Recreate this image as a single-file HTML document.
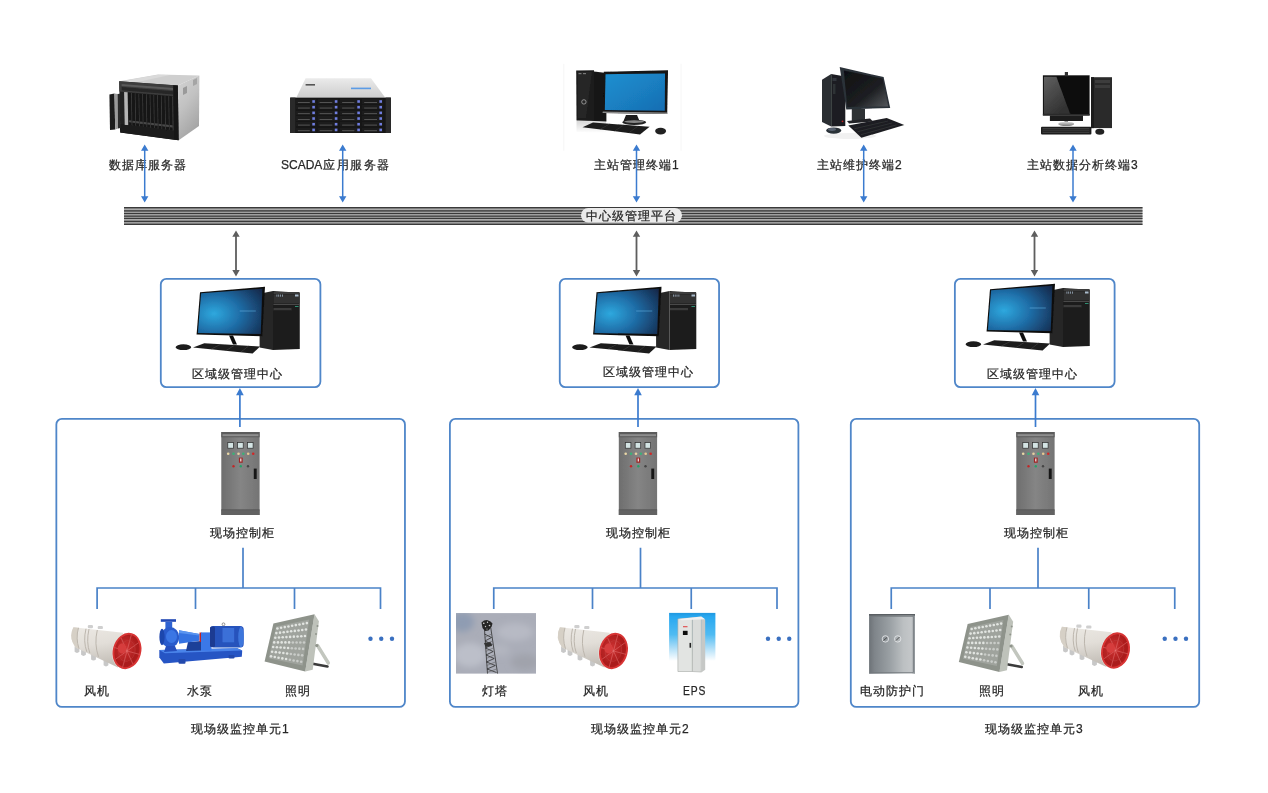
<!DOCTYPE html>
<html><head><meta charset="utf-8">
<style>
html,body{margin:0;padding:0;background:#fff;}
body{width:1268px;height:793px;position:relative;overflow:hidden;font-family:"Liberation Sans",sans-serif;color:#262626;}
.t{position:absolute;font-size:12px;line-height:16px;white-space:nowrap;letter-spacing:1px;-webkit-text-stroke:0.25px #2a2a2a;will-change:transform;}
svg.L{position:absolute;left:0;top:0;}
</style></head><body>
<svg class="L" width="1268" height="793" viewBox="0 0 1268 793">

<defs>
 <linearGradient id="gTop" x1="0" y1="0" x2="0" y2="1"><stop offset="0" stop-color="#ebebeb"/><stop offset="1" stop-color="#cdcdcd"/></linearGradient>
 <linearGradient id="gSide" x1="0" y1="0" x2="0.4" y2="1"><stop offset="0" stop-color="#d4d4d4"/><stop offset="0.5" stop-color="#c2c2c2"/><stop offset="1" stop-color="#a5a5a5"/></linearGradient>
 <linearGradient id="gDell" x1="0" y1="0" x2="1" y2="1"><stop offset="0" stop-color="#1f8fd0"/><stop offset="0.5" stop-color="#1a80c2"/><stop offset="1" stop-color="#176db2"/></linearGradient>
 <linearGradient id="gLen" x1="0" y1="0" x2="1" y2="1"><stop offset="0" stop-color="#0e0f11"/><stop offset="0.6" stop-color="#1d1f22"/><stop offset="1" stop-color="#55585c"/></linearGradient>
 <linearGradient id="gGloss" x1="0" y1="0" x2="1" y2="0"><stop offset="0" stop-color="#5a5a5a"/><stop offset="1" stop-color="#3a3a3a"/></linearGradient>
 <radialGradient id="gAsus" cx="0.25" cy="0.55" r="0.9"><stop offset="0" stop-color="#2ea8de"/><stop offset="0.45" stop-color="#1f6ea8"/><stop offset="1" stop-color="#15284a"/></radialGradient>
 <linearGradient id="gCab" x1="0" y1="0" x2="1" y2="0"><stop offset="0" stop-color="#6e6e6e"/><stop offset="0.5" stop-color="#858585"/><stop offset="1" stop-color="#747474"/></linearGradient>
 <linearGradient id="gFan" x1="0" y1="0" x2="0.2" y2="1"><stop offset="0" stop-color="#ece9e4"/><stop offset="0.5" stop-color="#e2ded8"/><stop offset="1" stop-color="#c4bfb8"/></linearGradient>
 <radialGradient id="gRed" cx="0.4" cy="0.45" r="0.6"><stop offset="0" stop-color="#cf3434"/><stop offset="0.8" stop-color="#a81a1a"/><stop offset="1" stop-color="#b82222"/></radialGradient>
 <linearGradient id="gSky" x1="0" y1="0" x2="1" y2="1"><stop offset="0" stop-color="#8d98ad"/><stop offset="0.35" stop-color="#aeb1bc"/><stop offset="0.7" stop-color="#a7aab3"/><stop offset="1" stop-color="#9fa2ab"/></linearGradient>
 <linearGradient id="gEps" x1="0" y1="0" x2="0" y2="1"><stop offset="0" stop-color="#2098e0"/><stop offset="0.08" stop-color="#28a8f0"/><stop offset="0.45" stop-color="#50bbf2"/><stop offset="0.75" stop-color="#b4e0f8"/><stop offset="1" stop-color="#ffffff"/></linearGradient>
 <linearGradient id="gDoor" x1="0" y1="0" x2="1" y2="0"><stop offset="0" stop-color="#6c7277"/><stop offset="0.12" stop-color="#7f858a"/><stop offset="0.45" stop-color="#9aa0a4"/><stop offset="0.75" stop-color="#bcc0c2"/><stop offset="0.92" stop-color="#c4c7c9"/><stop offset="1" stop-color="#8a9094"/></linearGradient>
 <linearGradient id="gGl3" x1="0" y1="0" x2="0.6" y2="1"><stop offset="0" stop-color="#606060"/><stop offset="1" stop-color="#303030"/></linearGradient>
 <linearGradient id="gRefl" x1="0" y1="0" x2="0" y2="1"><stop offset="0" stop-color="#d8d8d8"/><stop offset="1" stop-color="#ffffff"/></linearGradient>
 <linearGradient id="gBase" x1="0" y1="0" x2="0" y2="1"><stop offset="0" stop-color="#e0e0e0"/><stop offset="1" stop-color="#777"/></linearGradient>
 <filter id="blur1" x="-20%" y="-20%" width="140%" height="140%"><feGaussianBlur stdDeviation="3"/></filter>
 <filter id="soft" x="-5%" y="-5%" width="110%" height="110%"><feGaussianBlur stdDeviation="0.35"/></filter>
</defs>
<g filter="url(#soft)">
<polygon points="119.20,81.30 158.00,74.40 199.40,75.40 177.80,85.50" fill="#cfcfcf"/>
<polygon points="121.00,81.20 158.00,74.80 170.00,75.00 135.00,82.50" fill="#dadada"/>
<polygon points="177.80,85.50 199.40,75.40 199.00,126.00 178.70,140.30" fill="url(#gSide)"/>
<polygon points="183.00,88.00 187.00,86.00 187.00,93.00 183.00,95.00" fill="#9a9a9a"/>
<polygon points="193.00,80.00 197.00,78.00 197.00,84.00 193.00,86.00" fill="#a5a5a5"/>
<polygon points="119.20,81.30 177.80,85.50 178.70,140.30 120.20,132.50" fill="#232323"/>
<polygon points="119.20,81.30 177.80,85.50 177.98,96.46 119.40,91.54" fill="#3c3c3c"/>
<polygon points="121.59,84.04 173.16,87.89 173.19,90.07 121.63,86.09" fill="#5a5a5a"/>
<polygon points="121.65,87.12 173.21,91.16 173.27,94.43 121.71,90.20" fill="#262626"/>
<polygon points="173.11,85.16 177.80,85.50 178.70,140.30 174.02,139.68" fill="#161616"/>
<polygon points="124.09,91.93 127.60,92.23 128.23,125.32 124.72,124.89" fill="#b5b5b5"/>
<polygon points="128.20,92.80 131.00,93.03 131.61,125.22 128.81,124.87" fill="#141414"/>
<polygon points="131.00,93.03 131.93,93.11 132.54,125.33 131.61,125.22" fill="#3a3a3a"/>
<polygon points="128.72,120.22 131.52,120.55 131.56,122.62 128.76,122.29" fill="#4a4a4a"/>
<polygon points="131.93,93.11 134.73,93.35 135.34,125.68 132.54,125.33" fill="#141414"/>
<polygon points="134.73,93.35 135.67,93.43 136.27,125.79 135.34,125.68" fill="#3a3a3a"/>
<polygon points="132.45,120.66 135.25,120.98 135.29,123.07 132.49,122.73" fill="#4a4a4a"/>
<polygon points="135.67,93.43 138.47,93.66 139.07,126.13 136.27,125.79" fill="#141414"/>
<polygon points="138.47,93.66 139.40,93.74 140.00,126.25 139.07,126.13" fill="#3a3a3a"/>
<polygon points="136.18,121.09 138.98,121.42 139.02,123.52 136.22,123.18" fill="#4a4a4a"/>
<polygon points="139.40,93.74 142.20,93.98 142.80,126.59 140.00,126.25" fill="#141414"/>
<polygon points="142.20,93.98 143.13,94.06 143.73,126.71 142.80,126.59" fill="#3a3a3a"/>
<polygon points="139.91,121.53 142.71,121.86 142.75,123.96 139.95,123.63" fill="#4a4a4a"/>
<polygon points="143.13,94.06 145.94,94.30 146.53,127.05 143.73,126.71" fill="#141414"/>
<polygon points="145.94,94.30 146.87,94.38 147.46,127.17 146.53,127.05" fill="#3a3a3a"/>
<polygon points="143.64,121.97 146.44,122.30 146.48,124.41 143.68,124.07" fill="#4a4a4a"/>
<polygon points="146.87,94.38 149.67,94.61 150.26,127.51 147.46,127.17" fill="#141414"/>
<polygon points="149.67,94.61 150.60,94.69 151.19,127.62 150.26,127.51" fill="#3a3a3a"/>
<polygon points="147.37,122.41 150.17,122.73 150.21,124.86 147.41,124.52" fill="#4a4a4a"/>
<polygon points="150.60,94.69 153.40,94.93 153.99,127.97 151.19,127.62" fill="#141414"/>
<polygon points="153.40,94.93 154.34,95.01 154.92,128.08 153.99,127.97" fill="#3a3a3a"/>
<polygon points="151.11,122.84 153.90,123.17 153.94,125.30 151.14,124.97" fill="#4a4a4a"/>
<polygon points="154.34,95.01 157.14,95.24 157.72,128.43 154.92,128.08" fill="#141414"/>
<polygon points="157.14,95.24 158.07,95.32 158.65,128.54 157.72,128.43" fill="#3a3a3a"/>
<polygon points="154.84,123.28 157.63,123.61 157.67,125.75 154.87,125.41" fill="#4a4a4a"/>
<polygon points="158.07,95.32 160.87,95.56 161.45,128.88 158.65,128.54" fill="#141414"/>
<polygon points="160.87,95.56 161.81,95.64 162.38,129.00 161.45,128.88" fill="#3a3a3a"/>
<polygon points="158.57,123.72 161.37,124.05 161.40,126.20 158.60,125.86" fill="#4a4a4a"/>
<polygon points="161.81,95.64 164.61,95.88 165.18,129.34 162.38,129.00" fill="#141414"/>
<polygon points="164.61,95.88 165.54,95.95 166.11,129.46 165.18,129.34" fill="#3a3a3a"/>
<polygon points="162.30,124.16 165.10,124.48 165.13,126.64 162.34,126.31" fill="#4a4a4a"/>
<polygon points="165.54,95.95 168.34,96.19 168.91,129.80 166.11,129.46" fill="#141414"/>
<polygon points="168.34,96.19 169.28,96.27 169.84,129.91 168.91,129.80" fill="#3a3a3a"/>
<polygon points="166.03,124.59 168.83,124.92 168.86,127.09 166.07,126.75" fill="#4a4a4a"/>
<polygon points="169.28,96.27 172.08,96.51 172.64,130.26 169.84,129.91" fill="#141414"/>
<polygon points="172.08,96.51 173.01,96.59 173.57,130.37 172.64,130.26" fill="#3a3a3a"/>
<polygon points="169.76,125.03 172.56,125.36 172.59,127.54 169.80,127.20" fill="#4a4a4a"/>
<polygon points="120.04,124.31 173.87,130.95 174.02,139.68 120.20,132.50" fill="#1a1a1a"/>
<polygon points="109.40,94.50 114.50,93.50 115.20,129.50 110.00,130.00" fill="#1e1e1e"/>
<polygon points="114.50,93.50 117.50,94.00 118.00,128.50 115.20,129.50" fill="#9a9a9a"/>
<polygon points="117.50,94.00 120.00,93.80 120.50,128.00 118.00,128.50" fill="#2a2a2a"/>
<polygon points="305.60,78.20 371.00,78.20 385.10,97.60 296.40,97.60" fill="url(#gTop)"/>
<rect x="351" y="87.6" width="20" height="1.6" fill="#5c9ce6"/>
<rect x="305.6" y="84" width="9.4" height="1.6" fill="#555"/>
<rect x="290.2" y="97.6" width="100.7" height="35.4" fill="#131313"/>
<rect x="290.2" y="97.6" width="5.3" height="35.4" fill="#2a2a2a"/><rect x="385.6" y="97.6" width="5.3" height="35.4" fill="#2a2a2a"/>
<rect x="295.9" y="99.00" width="19.90" height="5" fill="#1d1d1d"/>
<rect x="297.9" y="102.00" width="11.90" height="0.7" fill="#6a6a6a"/>
<rect x="312.3" y="100.20" width="2.6" height="2.6" fill="#6f7ee0"/>
<rect x="295.9" y="104.68" width="19.90" height="5" fill="#1d1d1d"/>
<rect x="297.9" y="107.68" width="11.90" height="0.7" fill="#6a6a6a"/>
<rect x="312.3" y="105.88" width="2.6" height="2.6" fill="#6f7ee0"/>
<rect x="295.9" y="110.36" width="19.90" height="5" fill="#1d1d1d"/>
<rect x="297.9" y="113.36" width="11.90" height="0.7" fill="#6a6a6a"/>
<rect x="312.3" y="111.56" width="2.6" height="2.6" fill="#6f7ee0"/>
<rect x="295.9" y="116.04" width="19.90" height="5" fill="#1d1d1d"/>
<rect x="297.9" y="119.04" width="11.90" height="0.7" fill="#6a6a6a"/>
<rect x="312.3" y="117.24" width="2.6" height="2.6" fill="#6f7ee0"/>
<rect x="295.9" y="121.72" width="19.90" height="5" fill="#1d1d1d"/>
<rect x="297.9" y="124.72" width="11.90" height="0.7" fill="#6a6a6a"/>
<rect x="312.3" y="122.92" width="2.6" height="2.6" fill="#6f7ee0"/>
<rect x="295.9" y="127.40" width="19.90" height="5" fill="#1d1d1d"/>
<rect x="297.9" y="130.40" width="11.90" height="0.7" fill="#6a6a6a"/>
<rect x="312.3" y="128.60" width="2.6" height="2.6" fill="#6f7ee0"/>
<rect x="317.6" y="99.00" width="20.70" height="5" fill="#1d1d1d"/>
<rect x="319.6" y="102.00" width="12.70" height="0.7" fill="#6a6a6a"/>
<rect x="334.8" y="100.20" width="2.6" height="2.6" fill="#6f7ee0"/>
<rect x="317.6" y="104.68" width="20.70" height="5" fill="#1d1d1d"/>
<rect x="319.6" y="107.68" width="12.70" height="0.7" fill="#6a6a6a"/>
<rect x="334.8" y="105.88" width="2.6" height="2.6" fill="#6f7ee0"/>
<rect x="317.6" y="110.36" width="20.70" height="5" fill="#1d1d1d"/>
<rect x="319.6" y="113.36" width="12.70" height="0.7" fill="#6a6a6a"/>
<rect x="334.8" y="111.56" width="2.6" height="2.6" fill="#6f7ee0"/>
<rect x="317.6" y="116.04" width="20.70" height="5" fill="#1d1d1d"/>
<rect x="319.6" y="119.04" width="12.70" height="0.7" fill="#6a6a6a"/>
<rect x="334.8" y="117.24" width="2.6" height="2.6" fill="#6f7ee0"/>
<rect x="317.6" y="121.72" width="20.70" height="5" fill="#1d1d1d"/>
<rect x="319.6" y="124.72" width="12.70" height="0.7" fill="#6a6a6a"/>
<rect x="334.8" y="122.92" width="2.6" height="2.6" fill="#6f7ee0"/>
<rect x="317.6" y="127.40" width="20.70" height="5" fill="#1d1d1d"/>
<rect x="319.6" y="130.40" width="12.70" height="0.7" fill="#6a6a6a"/>
<rect x="334.8" y="128.60" width="2.6" height="2.6" fill="#6f7ee0"/>
<rect x="340.1" y="99.00" width="20.30" height="5" fill="#1d1d1d"/>
<rect x="342.1" y="102.00" width="12.30" height="0.7" fill="#6a6a6a"/>
<rect x="357.3" y="100.20" width="2.6" height="2.6" fill="#6f7ee0"/>
<rect x="340.1" y="104.68" width="20.30" height="5" fill="#1d1d1d"/>
<rect x="342.1" y="107.68" width="12.30" height="0.7" fill="#6a6a6a"/>
<rect x="357.3" y="105.88" width="2.6" height="2.6" fill="#6f7ee0"/>
<rect x="340.1" y="110.36" width="20.30" height="5" fill="#1d1d1d"/>
<rect x="342.1" y="113.36" width="12.30" height="0.7" fill="#6a6a6a"/>
<rect x="357.3" y="111.56" width="2.6" height="2.6" fill="#6f7ee0"/>
<rect x="340.1" y="116.04" width="20.30" height="5" fill="#1d1d1d"/>
<rect x="342.1" y="119.04" width="12.30" height="0.7" fill="#6a6a6a"/>
<rect x="357.3" y="117.24" width="2.6" height="2.6" fill="#6f7ee0"/>
<rect x="340.1" y="121.72" width="20.30" height="5" fill="#1d1d1d"/>
<rect x="342.1" y="124.72" width="12.30" height="0.7" fill="#6a6a6a"/>
<rect x="357.3" y="122.92" width="2.6" height="2.6" fill="#6f7ee0"/>
<rect x="340.1" y="127.40" width="20.30" height="5" fill="#1d1d1d"/>
<rect x="342.1" y="130.40" width="12.30" height="0.7" fill="#6a6a6a"/>
<rect x="357.3" y="128.60" width="2.6" height="2.6" fill="#6f7ee0"/>
<rect x="362.2" y="99.00" width="20.80" height="5" fill="#1d1d1d"/>
<rect x="364.2" y="102.00" width="12.80" height="0.7" fill="#6a6a6a"/>
<rect x="379.4" y="100.20" width="2.6" height="2.6" fill="#6f7ee0"/>
<rect x="362.2" y="104.68" width="20.80" height="5" fill="#1d1d1d"/>
<rect x="364.2" y="107.68" width="12.80" height="0.7" fill="#6a6a6a"/>
<rect x="379.4" y="105.88" width="2.6" height="2.6" fill="#6f7ee0"/>
<rect x="362.2" y="110.36" width="20.80" height="5" fill="#1d1d1d"/>
<rect x="364.2" y="113.36" width="12.80" height="0.7" fill="#6a6a6a"/>
<rect x="379.4" y="111.56" width="2.6" height="2.6" fill="#6f7ee0"/>
<rect x="362.2" y="116.04" width="20.80" height="5" fill="#1d1d1d"/>
<rect x="364.2" y="119.04" width="12.80" height="0.7" fill="#6a6a6a"/>
<rect x="379.4" y="117.24" width="2.6" height="2.6" fill="#6f7ee0"/>
<rect x="362.2" y="121.72" width="20.80" height="5" fill="#1d1d1d"/>
<rect x="364.2" y="124.72" width="12.80" height="0.7" fill="#6a6a6a"/>
<rect x="379.4" y="122.92" width="2.6" height="2.6" fill="#6f7ee0"/>
<rect x="362.2" y="127.40" width="20.80" height="5" fill="#1d1d1d"/>
<rect x="364.2" y="130.40" width="12.80" height="0.7" fill="#6a6a6a"/>
<rect x="379.4" y="128.60" width="2.6" height="2.6" fill="#6f7ee0"/>
<path d="M563.8,63.8 V150.8 M681,63.8 V150.8" stroke="#f6f6f6" stroke-width="1"/>
<path d="M576.5,121 L606,121.5 L606,133 L576.5,132 Z" fill="url(#gRefl)"/>
<polygon points="594.00,71.50 606.40,73.00 606.40,121.50 594.00,121.00" fill="#161616"/>
<polygon points="576.20,70.50 594.00,70.20 594.00,121.00 576.50,120.60" fill="#1c1c1c"/>
<polygon points="578.00,72.00 592.00,71.80 586.00,118.00 578.00,118.00" fill="#262626"/>
<rect x="578.5" y="73" width="3" height="1.2" fill="#777"/><rect x="583" y="73" width="3" height="1.2" fill="#777"/>
<circle cx="583.9" cy="101.9" r="2.2" fill="none" stroke="#aaa" stroke-width="0.8"/>
<polygon points="603.80,71.80 668.00,70.20 667.20,114.00 602.50,113.00" fill="#121212"/>
<polygon points="602.80,111.50 667.30,112.50 667.20,114.00 602.50,113.00" fill="#8a8a8a"/>
<polygon points="605.50,74.20 665.00,73.40 664.80,110.80 604.80,110.00" fill="url(#gDell)"/>
<polygon points="626.00,115.00 637.00,115.00 639.50,121.00 623.50,121.00" fill="#1a1a1a"/>
<ellipse cx="634.2" cy="122.3" rx="12" ry="2.6" fill="#222"/><ellipse cx="634.2" cy="121.6" rx="10" ry="1.3" fill="#888"/>
<polygon points="582.50,127.30 593.00,122.50 649.60,126.80 640.00,134.50" fill="#1b1b1b"/>
<path d="M600.26,129.18 L609.47,124.07" stroke="#3c3c3c" stroke-width="0.6"/>
<path d="M614.63,130.94 L623.63,125.18" stroke="#3c3c3c" stroke-width="0.6"/>
<path d="M628.99,132.70 L637.79,126.30" stroke="#3c3c3c" stroke-width="0.6"/>
<ellipse cx="660.6" cy="131.1" rx="5.5" ry="3.3" fill="#202020"/>
<ellipse cx="850" cy="136" rx="26" ry="3" fill="#f1f1f1"/>
<polygon points="822.00,79.70 831.20,74.10 831.20,126.60 822.00,122.00" fill="#2a2d33"/>
<polygon points="831.20,74.10 845.30,76.60 845.30,126.00 831.20,126.60" fill="#1b1d21"/>
<rect x="832.5" y="78" width="4" height="3" fill="#33363c"/><rect x="833" y="84" width="2.5" height="10" fill="#2e3136"/><circle cx="842.5" cy="121.3" r="0.9" fill="#c42020"/>
<polygon points="839.70,67.00 883.60,77.10 890.20,107.90 846.30,109.40" fill="#2b3038"/>
<polygon points="843.80,70.60 882.60,78.60 888.20,106.40 847.30,106.90" fill="url(#gLen)"/>
<polygon points="851.80,109.00 865.00,109.00 865.00,121.50 851.80,121.50" fill="#2d3136"/>
<polygon points="847.00,121.00 870.00,118.50 873.00,121.50 849.00,123.50" fill="#202226"/>
<polygon points="848.30,125.60 886.70,118.00 904.30,125.10 861.40,137.70" fill="#1c1d20"/>
<path d="M854.22,128.78 L888.00,121.04" stroke="#3a3c40" stroke-width="0.6"/>
<path d="M857.55,131.74 L892.29,122.94" stroke="#3a3c40" stroke-width="0.6"/>
<path d="M860.88,134.70 L896.58,124.84" stroke="#3a3c40" stroke-width="0.6"/>
<ellipse cx="833.7" cy="130.6" rx="7.5" ry="3.2" fill="#2a3038"/><ellipse cx="832" cy="129.5" rx="4" ry="1.4" fill="#5a6472"/>
<rect x="1042.9" y="75.3" width="46.7" height="40.2" fill="#0c0c0c"/>
<polygon points="1043.90,76.70 1056.40,76.70 1070.40,114.50 1043.90,114.50" fill="url(#gGl3)"/>
<rect x="1042.9" y="113.8" width="46.7" height="1.7" fill="#2a2a2a"/>
<rect x="1064.8" y="72" width="3.2" height="4.3" fill="#333"/>
<rect x="1049.9" y="115.5" width="33.1" height="5.5" fill="#1a1a1a"/>
<rect x="1064.5" y="121" width="3.5" height="2" fill="#888"/><ellipse cx="1066.2" cy="123.9" rx="8" ry="2.2" fill="url(#gBase)"/>
<rect x="1041" y="126.7" width="50.4" height="7.9" rx="1" fill="#1c1c1c"/><rect x="1042.5" y="128" width="47" height="5" fill="#3a3a3a"/><path d="M1042.5,129.7 H1089.5 M1042.5,131.4 H1089.5" stroke="#141414" stroke-width="0.5"/>
<rect x="1091" y="77.2" width="21" height="50.9" fill="#2c2c2c"/>
<rect x="1091" y="77.2" width="3" height="50.9" fill="#1a1a1a"/>
<rect x="1095" y="80" width="15" height="3" fill="#3c3c3c"/><rect x="1095" y="85" width="15" height="3" fill="#3a3a3a"/>
<ellipse cx="1099.8" cy="131.8" rx="4.5" ry="3" fill="#222"/>
<g transform="translate(0,0)">
<polygon points="259.60,293.80 273.00,291.10 273.00,350.10 259.60,347.50" fill="#262626"/>
<polygon points="273.00,291.10 299.80,292.70 299.80,349.00 273.00,350.10" fill="#1f1f1f"/>
<rect x="273.5" y="292" width="26" height="2.2" fill="#3a3a3a"/><rect x="273.5" y="294.5" width="26" height="9" fill="#333"/><rect x="273.5" y="304" width="26" height="1" fill="#4a4a4a"/><rect x="273.5" y="308" width="18" height="2.2" fill="#3a3a3a"/>
<rect x="276.5" y="294.5" width="0.8" height="2.2" fill="#9ab"/><rect x="278.3" y="294.5" width="0.8" height="2.2" fill="#9ab"/><rect x="280.1" y="294.5" width="0.8" height="2.2" fill="#9ab"/><rect x="282" y="294.5" width="0.8" height="2.2" fill="#9ab"/><rect x="295" y="294.5" width="3.5" height="2" fill="#abc"/><rect x="295" y="306" width="3.5" height="0.8" fill="#3a8"/>
<polygon points="200.00,292.20 265.00,286.80 262.30,336.20 196.60,334.60" fill="#101010"/>
<polygon points="201.10,293.30 262.30,288.70 260.70,334.00 197.90,333.00" fill="url(#gAsus)"/>
<path d="M239.7,311 H255.8" stroke="#5fb0e0" stroke-width="0.6"/>
<polygon points="229.00,335.50 233.00,335.50 237.00,344.50 233.00,344.50" fill="#111"/>
<polygon points="193.00,347.40 204.30,343.20 260.10,346.40 252.60,353.40" fill="#1c1c1c"/>
<path d="M211.39,348.95 L220.53,344.41" stroke="#444" stroke-width="0.6"/>
<path d="M226.24,350.41 L234.53,345.25" stroke="#444" stroke-width="0.6"/>
<path d="M241.09,351.88 L248.53,346.08" stroke="#444" stroke-width="0.6"/>
<ellipse cx="183.4" cy="347.2" rx="7.8" ry="2.9" fill="#1a1a1a"/>
</g>
<g transform="translate(396.5,0)">
<polygon points="259.60,293.80 273.00,291.10 273.00,350.10 259.60,347.50" fill="#262626"/>
<polygon points="273.00,291.10 299.80,292.70 299.80,349.00 273.00,350.10" fill="#1f1f1f"/>
<rect x="273.5" y="292" width="26" height="2.2" fill="#3a3a3a"/><rect x="273.5" y="294.5" width="26" height="9" fill="#333"/><rect x="273.5" y="304" width="26" height="1" fill="#4a4a4a"/><rect x="273.5" y="308" width="18" height="2.2" fill="#3a3a3a"/>
<rect x="276.5" y="294.5" width="0.8" height="2.2" fill="#9ab"/><rect x="278.3" y="294.5" width="0.8" height="2.2" fill="#9ab"/><rect x="280.1" y="294.5" width="0.8" height="2.2" fill="#9ab"/><rect x="282" y="294.5" width="0.8" height="2.2" fill="#9ab"/><rect x="295" y="294.5" width="3.5" height="2" fill="#abc"/><rect x="295" y="306" width="3.5" height="0.8" fill="#3a8"/>
<polygon points="200.00,292.20 265.00,286.80 262.30,336.20 196.60,334.60" fill="#101010"/>
<polygon points="201.10,293.30 262.30,288.70 260.70,334.00 197.90,333.00" fill="url(#gAsus)"/>
<path d="M239.7,311 H255.8" stroke="#5fb0e0" stroke-width="0.6"/>
<polygon points="229.00,335.50 233.00,335.50 237.00,344.50 233.00,344.50" fill="#111"/>
<polygon points="193.00,347.40 204.30,343.20 260.10,346.40 252.60,353.40" fill="#1c1c1c"/>
<path d="M211.39,348.95 L220.53,344.41" stroke="#444" stroke-width="0.6"/>
<path d="M226.24,350.41 L234.53,345.25" stroke="#444" stroke-width="0.6"/>
<path d="M241.09,351.88 L248.53,346.08" stroke="#444" stroke-width="0.6"/>
<ellipse cx="183.4" cy="347.2" rx="7.8" ry="2.9" fill="#1a1a1a"/>
</g>
<g transform="translate(790,-3)">
<polygon points="259.60,293.80 273.00,291.10 273.00,350.10 259.60,347.50" fill="#262626"/>
<polygon points="273.00,291.10 299.80,292.70 299.80,349.00 273.00,350.10" fill="#1f1f1f"/>
<rect x="273.5" y="292" width="26" height="2.2" fill="#3a3a3a"/><rect x="273.5" y="294.5" width="26" height="9" fill="#333"/><rect x="273.5" y="304" width="26" height="1" fill="#4a4a4a"/><rect x="273.5" y="308" width="18" height="2.2" fill="#3a3a3a"/>
<rect x="276.5" y="294.5" width="0.8" height="2.2" fill="#9ab"/><rect x="278.3" y="294.5" width="0.8" height="2.2" fill="#9ab"/><rect x="280.1" y="294.5" width="0.8" height="2.2" fill="#9ab"/><rect x="282" y="294.5" width="0.8" height="2.2" fill="#9ab"/><rect x="295" y="294.5" width="3.5" height="2" fill="#abc"/><rect x="295" y="306" width="3.5" height="0.8" fill="#3a8"/>
<polygon points="200.00,292.20 265.00,286.80 262.30,336.20 196.60,334.60" fill="#101010"/>
<polygon points="201.10,293.30 262.30,288.70 260.70,334.00 197.90,333.00" fill="url(#gAsus)"/>
<path d="M239.7,311 H255.8" stroke="#5fb0e0" stroke-width="0.6"/>
<polygon points="229.00,335.50 233.00,335.50 237.00,344.50 233.00,344.50" fill="#111"/>
<polygon points="193.00,347.40 204.30,343.20 260.10,346.40 252.60,353.40" fill="#1c1c1c"/>
<path d="M211.39,348.95 L220.53,344.41" stroke="#444" stroke-width="0.6"/>
<path d="M226.24,350.41 L234.53,345.25" stroke="#444" stroke-width="0.6"/>
<path d="M241.09,351.88 L248.53,346.08" stroke="#444" stroke-width="0.6"/>
<ellipse cx="183.4" cy="347.2" rx="7.8" ry="2.9" fill="#1a1a1a"/>
</g>
<g transform="translate(0,0)">
<rect x="221.3" y="432" width="38.3" height="83" fill="url(#gCab)"/>
<rect x="221.3" y="432" width="38.3" height="5.3" fill="#5c5c5c"/><rect x="222.5" y="434.2" width="36" height="2" fill="#8e8e8e"/>
<rect x="221.3" y="509.8" width="38.3" height="5.2" fill="#626262"/><rect x="221.3" y="509.5" width="38.3" height="0.7" fill="#505050"/>
<rect x="227.79999999999998" y="442.6" width="5.6" height="5.6" fill="#d4e4e4" stroke="#2e2e2e" stroke-width="0.7"/>
<rect x="237.6" y="442.6" width="5.6" height="5.6" fill="#d4e4e4" stroke="#2e2e2e" stroke-width="0.7"/>
<rect x="247.5" y="442.6" width="5.6" height="5.6" fill="#d4e4e4" stroke="#2e2e2e" stroke-width="0.7"/>
<circle cx="228.2" cy="453.8" r="1.3" fill="#ead8a6"/>
<circle cx="233.5" cy="453.8" r="1.3" fill="#3ab078"/>
<circle cx="238.5" cy="453.8" r="1.3" fill="#e8d0a0"/>
<circle cx="243.3" cy="453.8" r="1.3" fill="#3ab078"/>
<circle cx="248.2" cy="453.8" r="1.3" fill="#e8c890"/>
<circle cx="253.2" cy="453.8" r="1.3" fill="#d02828"/>
<rect x="238.9" y="457.6" width="3.8" height="5.2" fill="#a02828"/><rect x="240.2" y="458.5" width="1.2" height="3" fill="#eee"/>
<circle cx="233.5" cy="466.3" r="1.2" fill="#c02828"/>
<circle cx="240.8" cy="466.3" r="1.2" fill="#28a068"/>
<circle cx="248" cy="466.3" r="1.2" fill="#444"/>
<rect x="253.8" y="468.6" width="2.9" height="10.4" fill="#151515"/>
</g>
<g transform="translate(397.5,0)">
<rect x="221.3" y="432" width="38.3" height="83" fill="url(#gCab)"/>
<rect x="221.3" y="432" width="38.3" height="5.3" fill="#5c5c5c"/><rect x="222.5" y="434.2" width="36" height="2" fill="#8e8e8e"/>
<rect x="221.3" y="509.8" width="38.3" height="5.2" fill="#626262"/><rect x="221.3" y="509.5" width="38.3" height="0.7" fill="#505050"/>
<rect x="227.79999999999998" y="442.6" width="5.6" height="5.6" fill="#d4e4e4" stroke="#2e2e2e" stroke-width="0.7"/>
<rect x="237.6" y="442.6" width="5.6" height="5.6" fill="#d4e4e4" stroke="#2e2e2e" stroke-width="0.7"/>
<rect x="247.5" y="442.6" width="5.6" height="5.6" fill="#d4e4e4" stroke="#2e2e2e" stroke-width="0.7"/>
<circle cx="228.2" cy="453.8" r="1.3" fill="#ead8a6"/>
<circle cx="233.5" cy="453.8" r="1.3" fill="#3ab078"/>
<circle cx="238.5" cy="453.8" r="1.3" fill="#e8d0a0"/>
<circle cx="243.3" cy="453.8" r="1.3" fill="#3ab078"/>
<circle cx="248.2" cy="453.8" r="1.3" fill="#e8c890"/>
<circle cx="253.2" cy="453.8" r="1.3" fill="#d02828"/>
<rect x="238.9" y="457.6" width="3.8" height="5.2" fill="#a02828"/><rect x="240.2" y="458.5" width="1.2" height="3" fill="#eee"/>
<circle cx="233.5" cy="466.3" r="1.2" fill="#c02828"/>
<circle cx="240.8" cy="466.3" r="1.2" fill="#28a068"/>
<circle cx="248" cy="466.3" r="1.2" fill="#444"/>
<rect x="253.8" y="468.6" width="2.9" height="10.4" fill="#151515"/>
</g>
<g transform="translate(795,0)">
<rect x="221.3" y="432" width="38.3" height="83" fill="url(#gCab)"/>
<rect x="221.3" y="432" width="38.3" height="5.3" fill="#5c5c5c"/><rect x="222.5" y="434.2" width="36" height="2" fill="#8e8e8e"/>
<rect x="221.3" y="509.8" width="38.3" height="5.2" fill="#626262"/><rect x="221.3" y="509.5" width="38.3" height="0.7" fill="#505050"/>
<rect x="227.79999999999998" y="442.6" width="5.6" height="5.6" fill="#d4e4e4" stroke="#2e2e2e" stroke-width="0.7"/>
<rect x="237.6" y="442.6" width="5.6" height="5.6" fill="#d4e4e4" stroke="#2e2e2e" stroke-width="0.7"/>
<rect x="247.5" y="442.6" width="5.6" height="5.6" fill="#d4e4e4" stroke="#2e2e2e" stroke-width="0.7"/>
<circle cx="228.2" cy="453.8" r="1.3" fill="#ead8a6"/>
<circle cx="233.5" cy="453.8" r="1.3" fill="#3ab078"/>
<circle cx="238.5" cy="453.8" r="1.3" fill="#e8d0a0"/>
<circle cx="243.3" cy="453.8" r="1.3" fill="#3ab078"/>
<circle cx="248.2" cy="453.8" r="1.3" fill="#e8c890"/>
<circle cx="253.2" cy="453.8" r="1.3" fill="#d02828"/>
<rect x="238.9" y="457.6" width="3.8" height="5.2" fill="#a02828"/><rect x="240.2" y="458.5" width="1.2" height="3" fill="#eee"/>
<circle cx="233.5" cy="466.3" r="1.2" fill="#c02828"/>
<circle cx="240.8" cy="466.3" r="1.2" fill="#28a068"/>
<circle cx="248" cy="466.3" r="1.2" fill="#444"/>
<rect x="253.8" y="468.6" width="2.9" height="10.4" fill="#151515"/>
</g>
<g transform="translate(0,0)"><path d="M74.6,646.3 h4.8 v5.5 q-2.4,2.2 -4.8,0 Z" fill="#c8c8c8"/><path d="M81.1,649.3 h4.8 v5.5 q-2.4,2.2 -4.8,0 Z" fill="#c8c8c8"/><path d="M91.1,654 h4.8 v5.5 q-2.4,2.2 -4.8,0 Z" fill="#c8c8c8"/><path d="M103.6,659.8 h4.8 v5.5 q-2.4,2.2 -4.8,0 Z" fill="#c8c8c8"/><path d="M73.4,627.2 L123.2,632.8 L118,667.5 L76,647.8 Q68,637.5 73.4,627.2 Z" fill="url(#gFan)"/><path d="M73.4,627.2 Q68,637.5 76,647.8 L79,648.8 Q75,638 78.5,627.8 Z" fill="#d6d0c6"/><path d="M78.5,627.8 Q75.5,638 79,648.8 M86,628.7 Q83,641 86.8,651.8 M89,629 Q86,642 89.8,653 M97.3,630 Q94,644 98.5,656.8" stroke="#bcb6ad" stroke-width="1" fill="none"/><rect x="87.80000000000001" y="625.0" width="5.2" height="3.2" rx="1.2" fill="#cfcfcf"/><rect x="97.7" y="625.9" width="5.2" height="3.2" rx="1.2" fill="#cfcfcf"/><ellipse cx="126" cy="651" rx="13.8" ry="18" transform="rotate(15 126 651)" fill="#e4e1dc"/><ellipse cx="127" cy="651" rx="13.2" ry="17.4" transform="rotate(15 127 651)" fill="url(#gRed)" stroke="#d83434" stroke-width="1.9"/><g transform="rotate(15 127 651)" stroke="#e87878" stroke-width="0.45" fill="none"><path d="M127,634 V668 M114,651 H140 M118,640 L136,662 M136,640 L118,662"/><ellipse cx="127" cy="651" rx="8" ry="10.5" stroke="#c04040"/></g><ellipse cx="122" cy="648.5" rx="4.2" ry="5" fill="#d63c3c"/></g>
<g transform="translate(486.5,0)"><path d="M74.6,646.3 h4.8 v5.5 q-2.4,2.2 -4.8,0 Z" fill="#c8c8c8"/><path d="M81.1,649.3 h4.8 v5.5 q-2.4,2.2 -4.8,0 Z" fill="#c8c8c8"/><path d="M91.1,654 h4.8 v5.5 q-2.4,2.2 -4.8,0 Z" fill="#c8c8c8"/><path d="M103.6,659.8 h4.8 v5.5 q-2.4,2.2 -4.8,0 Z" fill="#c8c8c8"/><path d="M73.4,627.2 L123.2,632.8 L118,667.5 L76,647.8 Q68,637.5 73.4,627.2 Z" fill="url(#gFan)"/><path d="M73.4,627.2 Q68,637.5 76,647.8 L79,648.8 Q75,638 78.5,627.8 Z" fill="#d6d0c6"/><path d="M78.5,627.8 Q75.5,638 79,648.8 M86,628.7 Q83,641 86.8,651.8 M89,629 Q86,642 89.8,653 M97.3,630 Q94,644 98.5,656.8" stroke="#bcb6ad" stroke-width="1" fill="none"/><rect x="87.80000000000001" y="625.0" width="5.2" height="3.2" rx="1.2" fill="#cfcfcf"/><rect x="97.7" y="625.9" width="5.2" height="3.2" rx="1.2" fill="#cfcfcf"/><ellipse cx="126" cy="651" rx="13.8" ry="18" transform="rotate(15 126 651)" fill="#e4e1dc"/><ellipse cx="127" cy="651" rx="13.2" ry="17.4" transform="rotate(15 127 651)" fill="url(#gRed)" stroke="#d83434" stroke-width="1.9"/><g transform="rotate(15 127 651)" stroke="#e87878" stroke-width="0.45" fill="none"><path d="M127,634 V668 M114,651 H140 M118,640 L136,662 M136,640 L118,662"/><ellipse cx="127" cy="651" rx="8" ry="10.5" stroke="#c04040"/></g><ellipse cx="122" cy="648.5" rx="4.2" ry="5" fill="#d63c3c"/></g>
<g transform="translate(988.5,-0.5)"><path d="M74.6,646.3 h4.8 v5.5 q-2.4,2.2 -4.8,0 Z" fill="#c8c8c8"/><path d="M81.1,649.3 h4.8 v5.5 q-2.4,2.2 -4.8,0 Z" fill="#c8c8c8"/><path d="M91.1,654 h4.8 v5.5 q-2.4,2.2 -4.8,0 Z" fill="#c8c8c8"/><path d="M103.6,659.8 h4.8 v5.5 q-2.4,2.2 -4.8,0 Z" fill="#c8c8c8"/><path d="M73.4,627.2 L123.2,632.8 L118,667.5 L76,647.8 Q68,637.5 73.4,627.2 Z" fill="url(#gFan)"/><path d="M73.4,627.2 Q68,637.5 76,647.8 L79,648.8 Q75,638 78.5,627.8 Z" fill="#d6d0c6"/><path d="M78.5,627.8 Q75.5,638 79,648.8 M86,628.7 Q83,641 86.8,651.8 M89,629 Q86,642 89.8,653 M97.3,630 Q94,644 98.5,656.8" stroke="#bcb6ad" stroke-width="1" fill="none"/><rect x="87.80000000000001" y="625.0" width="5.2" height="3.2" rx="1.2" fill="#cfcfcf"/><rect x="97.7" y="625.9" width="5.2" height="3.2" rx="1.2" fill="#cfcfcf"/><ellipse cx="126" cy="651" rx="13.8" ry="18" transform="rotate(15 126 651)" fill="#e4e1dc"/><ellipse cx="127" cy="651" rx="13.2" ry="17.4" transform="rotate(15 127 651)" fill="url(#gRed)" stroke="#d83434" stroke-width="1.9"/><g transform="rotate(15 127 651)" stroke="#e87878" stroke-width="0.45" fill="none"><path d="M127,634 V668 M114,651 H140 M118,640 L136,662 M136,640 L118,662"/><ellipse cx="127" cy="651" rx="8" ry="10.5" stroke="#c04040"/></g><ellipse cx="122" cy="648.5" rx="4.2" ry="5" fill="#d63c3c"/></g>
<polygon points="159.30,649.90 237.30,648.30 242.20,650.60 241.80,656.70 163.80,663.50 159.30,657.40" fill="#2854c4"/>
<polygon points="159.30,649.90 237.30,648.30 242.20,650.60 165.00,653.20" fill="#4a84ea"/>
<rect x="178.5" y="659" width="7" height="4.8" rx="1" fill="#2248ac"/><rect x="228.5" y="655" width="6" height="3.5" rx="1" fill="#2248ac"/>
<polygon points="188.00,642.00 201.00,641.00 201.00,650.50 186.00,651.00" fill="#1d3f98"/>
<rect x="160.8" y="619.2" width="15.2" height="2.6" fill="#2149b4"/><rect x="165.4" y="621.8" width="6.8" height="7" fill="#2d62d2"/>
<ellipse cx="170" cy="637.3" rx="9.3" ry="10.2" fill="#2a5bcc"/><ellipse cx="171.5" cy="636.5" rx="5.5" ry="6.5" fill="#3a76e4"/>
<ellipse cx="162" cy="637" rx="2.6" ry="8.2" fill="#1f46ad"/>
<path d="M166,646 L175,646 L177,651 L164,652 Z" fill="#2550bd"/>
<polygon points="179.00,630.20 199.40,634.00 199.40,640.80 179.00,643.80" fill="#3673e2"/>
<polygon points="179.00,630.20 199.40,634.00 199.40,635.50 179.00,633.00" fill="#5a95f0"/>
<rect x="199.5" y="632.5" width="2" height="9.5" fill="#c42222"/>
<rect x="201" y="632.4" width="10.5" height="18.2" fill="#3b78e8"/>
<rect x="210" y="626" width="33.7" height="21.6" rx="3.5" fill="#2652bc"/>
<rect x="210" y="626.5" width="5" height="20.6" rx="1.5" fill="#1b3a92"/>
<ellipse cx="241" cy="637" rx="2.8" ry="10.3" fill="#3e76dc"/>
<rect x="222.5" y="628" width="11.7" height="14.3" fill="#3a70d8"/>
<circle cx="223.5" cy="624.3" r="1.4" fill="none" stroke="#666" stroke-width="0.7"/>
<g transform="translate(0,0)"><path d="M317.5,645.5 L328.3,663" stroke="#c2c6be" stroke-width="3.4" stroke-linecap="round"/><path d="M312.7,663.8 L327.5,666.5" stroke="#3a3a3a" stroke-width="2.6" stroke-linecap="round"/><polygon points="314.50,614.20 318.90,621.20 312.70,669.80 305.20,671.50" fill="#bec2ba"/><circle cx="316.8" cy="645.5" r="1.6" fill="#8f948b"/><circle cx="317.5" cy="626" r="1" fill="#8f948b"/><circle cx="316" cy="634" r="1" fill="#8f948b"/><polygon points="273.40,623.40 314.50,614.20 305.20,671.50 264.60,661.40" fill="#8e938b"/><polygon points="276.10,626.50 309.20,619.50 302.60,665.40 268.60,658.30" fill="#9fa39d"/><circle cx="277.41" cy="628.44" r="1.3" fill="#e2e5e1"/><circle cx="281.09" cy="627.77" r="1.3" fill="#e2e5e1"/><circle cx="284.78" cy="627.11" r="1.3" fill="#e2e5e1"/><circle cx="288.46" cy="626.44" r="1.3" fill="#e2e5e1"/><circle cx="292.15" cy="625.77" r="1.3" fill="#e2e5e1"/><circle cx="295.83" cy="625.11" r="1.3" fill="#e2e5e1"/><circle cx="299.52" cy="624.44" r="1.3" fill="#e2e5e1"/><circle cx="303.20" cy="623.78" r="1.3" fill="#e2e5e1"/><circle cx="306.89" cy="623.11" r="1.3" fill="#e2e5e1"/><circle cx="276.34" cy="633.09" r="1.3" fill="#e2e5e1"/><circle cx="280.04" cy="632.65" r="1.3" fill="#e2e5e1"/><circle cx="283.74" cy="632.21" r="1.3" fill="#e2e5e1"/><circle cx="287.44" cy="631.77" r="1.3" fill="#e2e5e1"/><circle cx="291.14" cy="631.32" r="1.3" fill="#e2e5e1"/><circle cx="294.84" cy="630.88" r="1.3" fill="#e2e5e1"/><circle cx="298.54" cy="630.44" r="1.3" fill="#e2e5e1"/><circle cx="302.24" cy="630.00" r="1.3" fill="#e2e5e1"/><circle cx="305.94" cy="629.56" r="1.3" fill="#e2e5e1"/><circle cx="275.28" cy="637.75" r="1.3" fill="#e2e5e1"/><circle cx="278.99" cy="637.53" r="1.3" fill="#e2e5e1"/><circle cx="282.71" cy="637.31" r="1.3" fill="#e2e5e1"/><circle cx="286.42" cy="637.09" r="1.3" fill="#e2e5e1"/><circle cx="290.13" cy="636.88" r="1.3" fill="#e2e5e1"/><circle cx="293.85" cy="636.66" r="1.3" fill="#e2e5e1"/><circle cx="297.56" cy="636.44" r="1.3" fill="#e2e5e1"/><circle cx="301.27" cy="636.22" r="1.3" fill="#e2e5e1"/><circle cx="304.99" cy="636.00" r="1.3" fill="#e2e5e1"/><circle cx="274.21" cy="642.40" r="1.3" fill="#e2e5e1"/><circle cx="277.94" cy="642.41" r="1.3" fill="#e2e5e1"/><circle cx="281.67" cy="642.41" r="1.3" fill="#e2e5e1"/><circle cx="285.40" cy="642.42" r="1.3" fill="#e2e5e1"/><circle cx="289.12" cy="642.42" r="1.3" fill="#e2e5e1"/><circle cx="292.85" cy="642.43" r="1.3" fill="#c9ccc8"/><circle cx="296.58" cy="642.44" r="1.3" fill="#c9ccc8"/><circle cx="300.31" cy="642.44" r="1.3" fill="#c9ccc8"/><circle cx="304.04" cy="642.45" r="1.3" fill="#c9ccc8"/><circle cx="273.15" cy="647.06" r="1.3" fill="#e2e5e1"/><circle cx="276.89" cy="647.29" r="1.3" fill="#e2e5e1"/><circle cx="280.63" cy="647.52" r="1.3" fill="#e2e5e1"/><circle cx="284.38" cy="647.75" r="1.3" fill="#e2e5e1"/><circle cx="288.12" cy="647.97" r="1.3" fill="#e2e5e1"/><circle cx="291.86" cy="648.20" r="1.3" fill="#c9ccc8"/><circle cx="295.60" cy="648.43" r="1.3" fill="#c9ccc8"/><circle cx="299.34" cy="648.66" r="1.3" fill="#c9ccc8"/><circle cx="303.09" cy="648.89" r="1.3" fill="#c9ccc8"/><circle cx="272.09" cy="651.71" r="1.3" fill="#e2e5e1"/><circle cx="275.84" cy="652.17" r="1.3" fill="#e2e5e1"/><circle cx="279.60" cy="652.62" r="1.3" fill="#e2e5e1"/><circle cx="283.35" cy="653.07" r="1.3" fill="#e2e5e1"/><circle cx="287.11" cy="653.52" r="1.3" fill="#e2e5e1"/><circle cx="290.87" cy="653.98" r="1.3" fill="#c9ccc8"/><circle cx="294.62" cy="654.43" r="1.3" fill="#c9ccc8"/><circle cx="298.38" cy="654.88" r="1.3" fill="#c9ccc8"/><circle cx="302.14" cy="655.34" r="1.3" fill="#c9ccc8"/><circle cx="271.02" cy="656.37" r="1.3" fill="#e2e5e1"/><circle cx="274.79" cy="657.04" r="1.3" fill="#e2e5e1"/><circle cx="278.56" cy="657.72" r="1.3" fill="#e2e5e1"/><circle cx="282.33" cy="658.40" r="1.3" fill="#e2e5e1"/><circle cx="286.10" cy="659.07" r="1.3" fill="#e2e5e1"/><circle cx="289.87" cy="659.75" r="1.3" fill="#c9ccc8"/><circle cx="293.64" cy="660.43" r="1.3" fill="#c9ccc8"/><circle cx="297.42" cy="661.11" r="1.3" fill="#c9ccc8"/><circle cx="301.19" cy="661.78" r="1.3" fill="#c9ccc8"/></g>
<g transform="translate(694.25,0.5)"><path d="M317.5,645.5 L328.3,663" stroke="#c2c6be" stroke-width="3.4" stroke-linecap="round"/><path d="M312.7,663.8 L327.5,666.5" stroke="#3a3a3a" stroke-width="2.6" stroke-linecap="round"/><polygon points="314.50,614.20 318.90,621.20 312.70,669.80 305.20,671.50" fill="#bec2ba"/><circle cx="316.8" cy="645.5" r="1.6" fill="#8f948b"/><circle cx="317.5" cy="626" r="1" fill="#8f948b"/><circle cx="316" cy="634" r="1" fill="#8f948b"/><polygon points="273.40,623.40 314.50,614.20 305.20,671.50 264.60,661.40" fill="#8e938b"/><polygon points="276.10,626.50 309.20,619.50 302.60,665.40 268.60,658.30" fill="#9fa39d"/><circle cx="277.41" cy="628.44" r="1.3" fill="#e2e5e1"/><circle cx="281.09" cy="627.77" r="1.3" fill="#e2e5e1"/><circle cx="284.78" cy="627.11" r="1.3" fill="#e2e5e1"/><circle cx="288.46" cy="626.44" r="1.3" fill="#e2e5e1"/><circle cx="292.15" cy="625.77" r="1.3" fill="#e2e5e1"/><circle cx="295.83" cy="625.11" r="1.3" fill="#e2e5e1"/><circle cx="299.52" cy="624.44" r="1.3" fill="#e2e5e1"/><circle cx="303.20" cy="623.78" r="1.3" fill="#e2e5e1"/><circle cx="306.89" cy="623.11" r="1.3" fill="#e2e5e1"/><circle cx="276.34" cy="633.09" r="1.3" fill="#e2e5e1"/><circle cx="280.04" cy="632.65" r="1.3" fill="#e2e5e1"/><circle cx="283.74" cy="632.21" r="1.3" fill="#e2e5e1"/><circle cx="287.44" cy="631.77" r="1.3" fill="#e2e5e1"/><circle cx="291.14" cy="631.32" r="1.3" fill="#e2e5e1"/><circle cx="294.84" cy="630.88" r="1.3" fill="#e2e5e1"/><circle cx="298.54" cy="630.44" r="1.3" fill="#e2e5e1"/><circle cx="302.24" cy="630.00" r="1.3" fill="#e2e5e1"/><circle cx="305.94" cy="629.56" r="1.3" fill="#e2e5e1"/><circle cx="275.28" cy="637.75" r="1.3" fill="#e2e5e1"/><circle cx="278.99" cy="637.53" r="1.3" fill="#e2e5e1"/><circle cx="282.71" cy="637.31" r="1.3" fill="#e2e5e1"/><circle cx="286.42" cy="637.09" r="1.3" fill="#e2e5e1"/><circle cx="290.13" cy="636.88" r="1.3" fill="#e2e5e1"/><circle cx="293.85" cy="636.66" r="1.3" fill="#e2e5e1"/><circle cx="297.56" cy="636.44" r="1.3" fill="#e2e5e1"/><circle cx="301.27" cy="636.22" r="1.3" fill="#e2e5e1"/><circle cx="304.99" cy="636.00" r="1.3" fill="#e2e5e1"/><circle cx="274.21" cy="642.40" r="1.3" fill="#e2e5e1"/><circle cx="277.94" cy="642.41" r="1.3" fill="#e2e5e1"/><circle cx="281.67" cy="642.41" r="1.3" fill="#e2e5e1"/><circle cx="285.40" cy="642.42" r="1.3" fill="#e2e5e1"/><circle cx="289.12" cy="642.42" r="1.3" fill="#e2e5e1"/><circle cx="292.85" cy="642.43" r="1.3" fill="#c9ccc8"/><circle cx="296.58" cy="642.44" r="1.3" fill="#c9ccc8"/><circle cx="300.31" cy="642.44" r="1.3" fill="#c9ccc8"/><circle cx="304.04" cy="642.45" r="1.3" fill="#c9ccc8"/><circle cx="273.15" cy="647.06" r="1.3" fill="#e2e5e1"/><circle cx="276.89" cy="647.29" r="1.3" fill="#e2e5e1"/><circle cx="280.63" cy="647.52" r="1.3" fill="#e2e5e1"/><circle cx="284.38" cy="647.75" r="1.3" fill="#e2e5e1"/><circle cx="288.12" cy="647.97" r="1.3" fill="#e2e5e1"/><circle cx="291.86" cy="648.20" r="1.3" fill="#c9ccc8"/><circle cx="295.60" cy="648.43" r="1.3" fill="#c9ccc8"/><circle cx="299.34" cy="648.66" r="1.3" fill="#c9ccc8"/><circle cx="303.09" cy="648.89" r="1.3" fill="#c9ccc8"/><circle cx="272.09" cy="651.71" r="1.3" fill="#e2e5e1"/><circle cx="275.84" cy="652.17" r="1.3" fill="#e2e5e1"/><circle cx="279.60" cy="652.62" r="1.3" fill="#e2e5e1"/><circle cx="283.35" cy="653.07" r="1.3" fill="#e2e5e1"/><circle cx="287.11" cy="653.52" r="1.3" fill="#e2e5e1"/><circle cx="290.87" cy="653.98" r="1.3" fill="#c9ccc8"/><circle cx="294.62" cy="654.43" r="1.3" fill="#c9ccc8"/><circle cx="298.38" cy="654.88" r="1.3" fill="#c9ccc8"/><circle cx="302.14" cy="655.34" r="1.3" fill="#c9ccc8"/><circle cx="271.02" cy="656.37" r="1.3" fill="#e2e5e1"/><circle cx="274.79" cy="657.04" r="1.3" fill="#e2e5e1"/><circle cx="278.56" cy="657.72" r="1.3" fill="#e2e5e1"/><circle cx="282.33" cy="658.40" r="1.3" fill="#e2e5e1"/><circle cx="286.10" cy="659.07" r="1.3" fill="#e2e5e1"/><circle cx="289.87" cy="659.75" r="1.3" fill="#c9ccc8"/><circle cx="293.64" cy="660.43" r="1.3" fill="#c9ccc8"/><circle cx="297.42" cy="661.11" r="1.3" fill="#c9ccc8"/><circle cx="301.19" cy="661.78" r="1.3" fill="#c9ccc8"/></g>
<svg x="456" y="613.1" width="80" height="60.7" viewBox="456 613.1 80 60.7" overflow="hidden">
<rect x="456" y="613.1" width="80" height="60.7" fill="#aaadb8"/>
<g filter="url(#blur1)"><ellipse cx="462" cy="622" rx="12" ry="10" fill="#8f9cb2"/><ellipse cx="470" cy="655" rx="16" ry="12" fill="#bcbfc9"/><ellipse cx="515" cy="632" rx="18" ry="9" fill="#b7bac4"/><ellipse cx="525" cy="662" rx="14" ry="8" fill="#a0a3ac"/><ellipse cx="500" cy="650" rx="10" ry="6" fill="#b2b5bf"/></g>
<g stroke="#2a2a2a" stroke-width="0.75" fill="none"><path d="M484.4,628 L487.5,673.8 M490.8,628 L497.6,673.8"/><path d="M484.5,634 L491.5,637.5 L485,641 L492.3,644.5 L485.5,648 L493.2,651.5 L486,655 L494.2,658.5 L486.5,662 L495.3,665.5 L487,669 L496.5,672.5"/><path d="M491.5,634 L484.6,637.5 M492.3,641 L485.2,644.5 M493.2,648 L485.8,651.5 M494.2,655 L486.3,658.5 M495.3,662 L486.8,665.5 M496.5,669 L487.2,672.5" stroke="#555" stroke-width="0.5"/></g>
<path d="M484,643 L490.5,642 L492,646 L485.5,647 Z" fill="#333"/>
<path d="M481.5,622.5 L484,620.5 L487,620 L490.5,621.5 L492.5,623.5 L491.5,627 L488.5,630.5 L485,631 L482.5,628 Z" fill="#262626"/>
<circle cx="483.8" cy="623.2" r="0.8" fill="#e2e2e2"/><circle cx="487.5" cy="622.3" r="0.7" fill="#d8d8d8"/><circle cx="489.5" cy="625.5" r="0.8" fill="#cfcfcf"/><circle cx="485.5" cy="626.5" r="0.7" fill="#c8c8c8"/><circle cx="487" cy="629" r="0.6" fill="#bbb"/>
</svg>
<rect x="669.1" y="612.9" width="46.3" height="48" fill="url(#gEps)"/>
<polygon points="677.90,619.00 692.40,617.80 692.40,671.50 677.90,671.50" fill="#e2e4e2" stroke="#a6a9a6" stroke-width="0.6"/>
<polygon points="692.40,617.80 701.30,617.00 701.30,672.00 692.40,671.50" fill="#dadcda" stroke="#a6a9a6" stroke-width="0.6"/>
<polygon points="701.30,617.00 705.20,619.80 705.20,669.80 701.30,672.50" fill="#c6c8c6"/>
<polygon points="677.90,619.00 701.30,616.60 705.20,619.30 682.00,620.30" fill="#f2f2f2"/>
<rect x="682.9" y="630.8" width="4.7" height="4.2" fill="#111"/><rect x="683" y="626" width="4.5" height="1.3" fill="#e06060"/><rect x="689.5" y="642.9" width="1.6" height="4.8" fill="#222"/>
<rect x="869.1" y="614" width="45.9" height="59.8" fill="url(#gDoor)"/>
<rect x="869.1" y="614" width="45.9" height="1.6" fill="#5a5f63"/><rect x="870.5" y="616.5" width="43" height="56" fill="none" stroke="#72787c" stroke-width="0.7"/>
<circle cx="885.4" cy="638.9" r="3.2" fill="none" stroke="#e2e4e6" stroke-width="0.9"/><circle cx="897.7" cy="638.9" r="3.2" fill="none" stroke="#e2e4e6" stroke-width="0.9"/>
<path d="M883.5,640.5 L887,637.5 M896,640.5 L899.5,637" stroke="#333" stroke-width="0.8"/>
</g>

  
  <!-- bus -->
  <rect x="124" y="207" width="1018.5" height="18" fill="#ababab"/>
  <g fill="#3a3a3a">
    <rect x="124" y="207" width="1018.5" height="1.4"/>
    <rect x="124" y="210.2" width="1018.5" height="1.4"/>
    <rect x="124" y="212.9" width="1018.5" height="1.2"/>
    <rect x="124" y="215.5" width="1018.5" height="1.3"/>
    <rect x="124" y="217.8" width="1018.5" height="1.2"/>
    <rect x="124" y="220.7" width="1018.5" height="1.4"/>
    <rect x="124" y="223.6" width="1018.5" height="1.4"/>
  </g>
  <rect x="581" y="208" width="101" height="14.5" rx="7.2" fill="#ebebeb"/>

</svg>
<div class="t" style="left:586px;top:208px">中心级管理平台</div>
<div class="t" style="left:109px;top:157px">数据库服务器</div>
<div class="t" style="left:281px;top:157px"><span style="letter-spacing:0;margin-right:1px">SCADA</span><span style="letter-spacing:1.4px">应用服务器</span></div>
<div class="t" style="left:594px;top:157px">主站管理终端1</div>
<div class="t" style="left:817px;top:157px">主站维护终端2</div>
<div class="t" style="left:1027px;top:157px">主站数据分析终端3</div>
<div class="t" style="left:192px;top:366px">区域级管理中心</div>
<div class="t" style="left:603px;top:364px">区域级管理中心</div>
<div class="t" style="left:987px;top:366px">区域级管理中心</div>
<div class="t" style="left:210px;top:525px">现场控制柜</div>
<div class="t" style="left:606px;top:525px">现场控制柜</div>
<div class="t" style="left:1004px;top:525px">现场控制柜</div>
<div class="t" style="left:84px;top:683px">风机</div>
<div class="t" style="left:187px;top:683px">水泵</div>
<div class="t" style="left:285px;top:683px">照明</div>
<div class="t" style="left:482px;top:683px">灯塔</div>
<div class="t" style="left:583px;top:683px">风机</div>
<div class="t" style="left:683px;top:683px"><span style="display:inline-block;transform:scaleX(0.86);transform-origin:0 0">EPS</span></div>
<div class="t" style="left:860px;top:683px">电动防护门</div>
<div class="t" style="left:979px;top:683px">照明</div>
<div class="t" style="left:1078px;top:683px">风机</div>
<div class="t" style="left:191px;top:721px">现场级监控单元1</div>
<div class="t" style="left:591px;top:721px">现场级监控单元2</div>
<div class="t" style="left:985px;top:721px">现场级监控单元3</div>
<svg class="L" width="1268" height="793" viewBox="0 0 1268 793">
  <g fill="none" stroke="#4f86c9" stroke-width="1.8">
    <rect x="160.8" y="278.9" width="159.6" height="108.2" rx="5.5"/>
    <rect x="559.76" y="278.9" width="159.3" height="108.2" rx="5.5"/>
    <rect x="954.87" y="278.9" width="159.73" height="108.2" rx="5.5"/>
    <rect x="56.35" y="418.9" width="348.6" height="288.05" rx="5.5"/>
    <rect x="449.9" y="418.9" width="348.5" height="288.05" rx="5.5"/>
    <rect x="850.8" y="418.9" width="348.4" height="288.05" rx="5.5"/>
  </g>
  <g fill="none" stroke="#4a82c8" stroke-width="1.7">
    <path d="M243,547.8 V588 M97.1,608.9 V588 H380.5 V608.9 M195.5,588 V608.9 M294.5,588 V608.9"/>
    <path d="M640.5,547.8 V588 M493.75,608.9 V588 H777 V608.9 M592.5,588 V608.9 M691.25,588 V608.9"/>
    <path d="M1038,547.8 V588 M891.25,608.9 V588 H1174.75 V608.9 M990,588 V608.9 M1088.75,588 V608.9"/>
  </g>
  <g fill="#3a70c0">
    <circle cx="370.5" cy="638.75" r="2.2"/><circle cx="381.25" cy="638.75" r="2.2"/><circle cx="392" cy="638.75" r="2.2"/>
    <circle cx="768" cy="638.75" r="2.2"/><circle cx="778.75" cy="638.75" r="2.2"/><circle cx="789.25" cy="638.75" r="2.2"/>
    <circle cx="1164.75" cy="638.75" r="2.2"/><circle cx="1175.5" cy="638.75" r="2.2"/><circle cx="1186" cy="638.75" r="2.2"/>
  </g>
  <g stroke="#3b7bcf" stroke-width="1.5">
    <path d="M144.7,150 V197"/><path d="M342.7,150 V197"/><path d="M636.5,150 V197"/><path d="M863.7,150 V197"/><path d="M1073,150 V197"/>
  </g>
  <g fill="#3b7bcf">
    <path d="M141,150.8 L144.7,144.5 L148.4,150.8 Z M141,196.3 L144.7,202.6 L148.4,196.3 Z"/>
    <path d="M339,150.8 L342.7,144.5 L346.4,150.8 Z M339,196.3 L342.7,202.6 L346.4,196.3 Z"/>
    <path d="M632.8,150.8 L636.5,144.5 L640.2,150.8 Z M632.8,196.3 L636.5,202.6 L640.2,196.3 Z"/>
    <path d="M860,150.8 L863.7,144.5 L867.4,150.8 Z M860,196.3 L863.7,202.6 L867.4,196.3 Z"/>
    <path d="M1069.3,150.8 L1073,144.5 L1076.7,150.8 Z M1069.3,196.3 L1073,202.6 L1076.7,196.3 Z"/>
  </g>
  <g stroke="#5e5e5e" stroke-width="1.8">
    <path d="M236,236 V270.5"/><path d="M636.5,236 V270.5"/><path d="M1034.5,236 V270.5"/>
  </g>
  <g fill="#5e5e5e">
    <path d="M232.3,236.8 L236,230.5 L239.7,236.8 Z M232.3,270.1 L236,276.4 L239.7,270.1 Z"/>
    <path d="M632.8,236.8 L636.5,230.5 L640.2,236.8 Z M632.8,270.1 L636.5,276.4 L640.2,270.1 Z"/>
    <path d="M1030.8,236.8 L1034.5,230.5 L1038.2,236.8 Z M1030.8,270.1 L1034.5,276.4 L1038.2,270.1 Z"/>
  </g>
  <g stroke="#3b7bcf" stroke-width="1.7">
    <path d="M239.9,427 V394"/><path d="M638,427 V394"/><path d="M1035.5,427 V394"/>
  </g>
  <g fill="#3b7bcf">
    <path d="M236.1,395.3 L239.9,388 L243.7,395.3 Z"/>
    <path d="M634.2,395.3 L638,388 L641.8,395.3 Z"/>
    <path d="M1031.7,395.3 L1035.5,388 L1039.3,395.3 Z"/>
  </g>

</svg>
</body></html>
